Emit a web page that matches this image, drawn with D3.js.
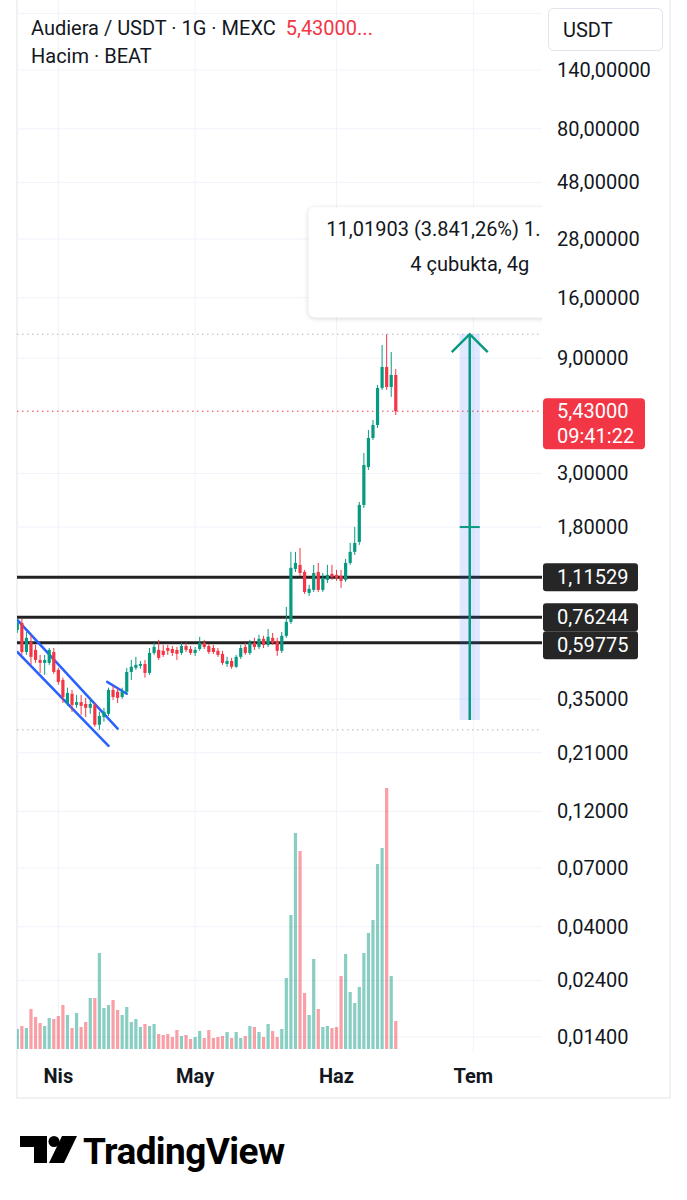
<!DOCTYPE html>
<html>
<head>
<meta charset="utf-8">
<script src="https://cdn.jsdelivr.net/npm/d3@7"></script>
<style>
  body { margin: 0; background: #fff; }
  svg { display: block; font-family: Roboto, "Noto Sans", sans-serif; }
</style>
</head>
<body>
<svg id="chart"></svg>
<script>
// daily candles, first one is 23 Mar
const firstDay = "2025-03-23";

const opens = [
  0.676, 0.723, 0.548, 0.603, 0.559, 0.508, 0.494, 0.494, 0.548, 0.462,
  0.420, 0.337, 0.368, 0.331, 0.340, 0.334, 0.322, 0.331, 0.274, 0.295,
  0.304, 0.382, 0.375, 0.357, 0.375, 0.453, 0.471, 0.480, 0.489, 0.449,
  0.543, 0.559, 0.554, 0.569, 0.564, 0.559, 0.543, 0.580, 0.564, 0.543,
  0.564, 0.598, 0.580, 0.569, 0.554, 0.538, 0.489, 0.503, 0.476, 0.523,
  0.575, 0.543, 0.598, 0.575, 0.621, 0.586, 0.627, 0.609, 0.554, 0.639,
  0.730, 1.209, 1.256, 1.174, 0.962, 0.990, 1.174, 0.990, 1.089, 1.153,
  1.142, 1.131, 1.089, 1.280, 1.422, 1.563, 2.223, 3.192, 4.208, 4.763,
  6.775, 8.275, 6.839, 7.667
];
const highs = [
  0.744, 0.751, 0.663, 0.645, 0.586, 0.533, 0.533, 0.569, 0.569, 0.471,
  0.429, 0.390, 0.382, 0.364, 0.364, 0.354, 0.354, 0.337, 0.310, 0.322,
  0.390, 0.397, 0.390, 0.390, 0.471, 0.508, 0.523, 0.503, 0.508, 0.569,
  0.598, 0.615, 0.586, 0.586, 0.580, 0.575, 0.598, 0.598, 0.580, 0.575,
  0.633, 0.615, 0.592, 0.586, 0.569, 0.554, 0.523, 0.518, 0.533, 0.586,
  0.598, 0.615, 0.627, 0.645, 0.639, 0.682, 0.657, 0.627, 0.663, 0.842,
  1.422, 1.422, 1.476, 1.197, 1.038, 1.256, 1.280, 1.163, 1.256, 1.256,
  1.197, 1.197, 1.329, 1.548, 1.803, 2.288, 3.648, 4.541, 4.995, 6.971,
  10.203, 11.306, 9.545, 8.118
];
const lows = [
  0.657, 0.533, 0.533, 0.485, 0.494, 0.449, 0.441, 0.485, 0.445, 0.401,
  0.337, 0.328, 0.310, 0.322, 0.301, 0.295, 0.304, 0.269, 0.261, 0.282,
  0.298, 0.347, 0.337, 0.350, 0.368, 0.420, 0.462, 0.467, 0.429, 0.441,
  0.533, 0.508, 0.523, 0.533, 0.528, 0.508, 0.533, 0.548, 0.533, 0.528,
  0.554, 0.564, 0.538, 0.538, 0.523, 0.485, 0.476, 0.467, 0.471, 0.513,
  0.533, 0.533, 0.559, 0.564, 0.569, 0.575, 0.586, 0.528, 0.543, 0.627,
  0.716, 1.174, 1.131, 0.953, 0.935, 0.971, 0.971, 0.971, 1.058, 1.089,
  1.079, 1.009, 1.068, 1.256, 1.381, 1.519, 2.160, 3.103, 4.129, 4.629,
  6.647, 6.647, 6.218, 5.239
];
const closes = [
  0.723, 0.548, 0.627, 0.523, 0.508, 0.494, 0.508, 0.559, 0.453, 0.412,
  0.357, 0.371, 0.331, 0.340, 0.328, 0.322, 0.334, 0.274, 0.298, 0.310,
  0.382, 0.357, 0.354, 0.375, 0.453, 0.476, 0.485, 0.489, 0.449, 0.543,
  0.575, 0.518, 0.533, 0.554, 0.543, 0.538, 0.580, 0.559, 0.543, 0.559,
  0.598, 0.575, 0.548, 0.548, 0.533, 0.494, 0.503, 0.476, 0.523, 0.569,
  0.543, 0.598, 0.575, 0.621, 0.586, 0.633, 0.598, 0.554, 0.639, 0.730,
  1.221, 1.280, 1.163, 0.971, 1.000, 1.163, 0.990, 1.110, 1.142, 1.120,
  1.110, 1.079, 1.280, 1.422, 1.548, 2.223, 3.254, 4.208, 4.763, 6.775,
  8.275, 6.839, 7.667, 5.430
];
// volume in millions of BEAT
const volumes = [
  2.0, 2.3, 2.1, 4.0, 3.2, 2.6, 2.3, 3.1, 3.0, 3.3,
  4.4, 3.4, 2.1, 3.6, 2.2, 2.7, 5.1, 5.1, 9.6, 4.1,
  4.4, 4.9, 3.9, 3.4, 4.2, 2.7, 3.0, 2.2, 2.5, 2.3,
  2.5, 1.5, 1.4, 1.5, 1.2, 1.9, 1.3, 1.4, 1.0, 1.2,
  1.8, 1.1, 1.9, 1.1, 1.2, 1.3, 1.7, 1.1, 1.7, 1.1,
  1.3, 2.3, 2.2, 1.7, 1.2, 2.5, 1.8, 1.2, 2.0, 7.1,
  13.4, 21.6, 19.8, 5.6, 3.4, 9.0, 4.0, 2.2, 2.3, 2.1,
  2.2, 7.3, 9.5, 5.7, 4.6, 6.2, 9.6, 11.6, 12.9, 18.5,
  20.1, 26.1, 7.3, 2.8
];

const levels = [1.11529, 0.76244, 0.59775];
const priceTicks = [140, 80, 48, 28, 16, 9, 3, 1.8, 0.35, 0.21, 0.12, 0.07, 0.04, 0.024, 0.014];
const hiddenTicks = [240];
const lastPrice = 5.43;
const countdown = "09:41:22";
const trMonths = ["Oca", "Şub", "Mar", "Nis", "May", "Haz", "Tem", "Ağu", "Eyl", "Eki", "Kas", "Ara"];

// trend lines drawn on the chart: [time, price] pairs
const channelLines = [
  [["2025-03-23T00:00Z", 0.744], ["2025-04-14T00:00Z", 0.264]],
  [["2025-03-23T00:00Z", 0.548], ["2025-04-12T00:00Z", 0.224]],
  [["2025-04-11T17:00Z", 0.412], ["2025-04-16T00:00Z", 0.368]]
];
const measureFrom = ["2025-06-28T00:00Z", 0.2869];
const measureTo = ["2025-07-02T00:00Z", 11.30593];
const measureLines = ["11,01903 (3.841,26%) 1.101.903", "4 çubukta, 4g"];

const headerTitle = "Audiera / USDT · 1G · MEXC";
const headerPrice = "5,43000...";
const headerSub = "Hacim · BEAT";

class PriceChart {

  constructor(_config) {
    this.config = {
      parentElement: _config.parentElement,
      width: _config.width || 687,
      height: _config.height || 1200,
      fontSize: _config.fontSize || 20,
      plot: _config.plot || {left: 17, right: 542, top: 0, bottom: 1052}
    };
    this.initVis();
    this.renderVis();
  }

  initVis() {
    let vis = this;

    vis.svg = d3.select(vis.config.parentElement)
      .attr("width", vis.config.width)
      .attr("height", vis.config.height);

    vis.candles = opens.map((o, i) => ({
      date: d3.utcDay.offset(new Date(firstDay), i),
      open: o, high: highs[i], low: lows[i], close: closes[i], volume: volumes[i]
    }));

    vis.xScale = d3.scaleUtc()
      .domain([new Date("2025-03-23"), new Date("2025-07-01")])
      .range([17.3, 473.3]);

    vis.yScale = d3.scaleLog()
      .domain([0.014, 140])
      .range([1037, 70]);

    vis.volScale = d3.scaleLinear()
      .domain([0, d3.max(volumes)])
      .range([1049, 788]);

    vis.fmt = d3.formatLocale({decimal: ",", thousands: ".", grouping: [3], currency: ["", ""]})
      .format(".5f");

    const defs = vis.svg.append("defs");
    const p = vis.config.plot;
    defs.append("clipPath").attr("id", "plot-clip")
      .append("rect")
      .attr("x", p.left).attr("y", p.top)
      .attr("width", p.right - p.left).attr("height", p.bottom - p.top);

    const shadow = defs.append("filter").attr("id", "soft-shadow")
      .attr("x", "-10%").attr("y", "-20%").attr("width", "120%").attr("height", "150%");
    shadow.append("feDropShadow")
      .attr("dx", 0).attr("dy", 1).attr("stdDeviation", 2.5)
      .attr("flood-color", "#000").attr("flood-opacity", 0.18);
  }

  renderVis() {
    let vis = this;
    const p = vis.config.plot;
    const fs = vis.config.fontSize;
    const x = vis.xScale, y = vis.yScale;
    const up = "#089981", down = "#f23645";

    // outer frame
    vis.svg.append("rect")
      .attr("x", 17).attr("y", -2)
      .attr("width", 653).attr("height", 1100)
      .attr("fill", "none").attr("stroke", "#e0e3eb").attr("stroke-width", 1);

    const plot = vis.svg.append("g").attr("clip-path", "url(#plot-clip)");

    // grid
    const monthTicks = x.ticks(d3.utcMonth.every(1))
      .filter(d => x(d) > p.left && x(d) < p.right);

    plot.append("g").selectAll("line")
      .data(monthTicks)
      .join("line")
      .attr("x1", d => x(d)).attr("x2", d => x(d))
      .attr("y1", p.top).attr("y2", p.bottom)
      .attr("stroke", "#f0f3fa");

    plot.append("g").selectAll("line")
      .data(priceTicks.concat(hiddenTicks))
      .join("line")
      .attr("x1", p.left).attr("x2", p.right)
      .attr("y1", d => y(d)).attr("y2", d => y(d))
      .attr("stroke", "#f0f3fa");

    // volume
    plot.append("g").selectAll("rect")
      .data(vis.candles)
      .join("rect")
      .attr("x", d => x(d.date) - 1.6)
      .attr("width", 3.2)
      .attr("y", d => vis.volScale(d.volume))
      .attr("height", d => vis.volScale(0) - vis.volScale(d.volume))
      .attr("fill", d => d.close >= d.open ? up : down)
      .attr("fill-opacity", 0.48);

    // horizontal levels
    plot.append("g").selectAll("line")
      .data(levels)
      .join("line")
      .attr("x1", p.left).attr("x2", p.right)
      .attr("y1", d => y(d)).attr("y2", d => y(d))
      .attr("stroke", "#222").attr("stroke-width", 3);

    // high / low / last price lines
    const hi = d3.max(highs), lo = d3.min(lows);
    plot.append("g").selectAll("line")
      .data([[hi, "#b2b5be"], [lo, "#b2b5be"], [lastPrice, down]])
      .join("line")
      .attr("x1", p.left).attr("x2", p.right)
      .attr("y1", d => y(d[0])).attr("y2", d => y(d[0]))
      .attr("stroke", d => d[1]).attr("stroke-width", 1)
      .attr("stroke-dasharray", "1.5 3.5");

    // channel drawings
    plot.append("g").selectAll("line")
      .data(channelLines)
      .join("line")
      .attr("x1", d => x(new Date(d[0][0]))).attr("y1", d => y(d[0][1]))
      .attr("x2", d => x(new Date(d[1][0]))).attr("y2", d => y(d[1][1]))
      .attr("stroke", "#2962ff").attr("stroke-width", 2.5)
      .attr("stroke-linecap", "round");

    // candles
    const candle = plot.append("g").selectAll("g")
      .data(vis.candles)
      .join("g")
      .attr("fill", d => d.close >= d.open ? up : down)
      .attr("stroke", d => d.close >= d.open ? up : down);

    candle.append("line")
      .attr("x1", d => x(d.date)).attr("x2", d => x(d.date))
      .attr("y1", d => y(d.high)).attr("y2", d => y(d.low))
      .attr("stroke-width", 1);

    candle.append("rect")
      .attr("stroke", "none")
      .attr("x", d => x(d.date) - 1.6)
      .attr("width", 3.2)
      .attr("y", d => y(Math.max(d.open, d.close)))
      .attr("height", d => Math.max(1, Math.abs(y(d.open) - y(d.close))));

    // measure tool
    const mx0 = x(new Date(measureFrom[0])), mx1 = x(new Date(measureTo[0]));
    const mxc = (mx0 + mx1) / 2 + 1;
    const my0 = y(measureFrom[1]), my1 = y(measureTo[1]);
    const measure = plot.append("g");
    measure.append("rect")
      .attr("x", mx0).attr("y", my1)
      .attr("width", mx1 - mx0 + 2).attr("height", my0 - my1)
      .attr("fill", "#2962ff").attr("fill-opacity", 0.15);
    measure.append("line")
      .attr("x1", mxc).attr("x2", mxc)
      .attr("y1", my0).attr("y2", my1 + 1)
      .attr("stroke", up).attr("stroke-width", 2.5);
    measure.append("path")
      .attr("d", `M${mxc - 18},${my1 + 18}L${mxc},${my1}L${mxc + 18},${my1 + 18}`)
      .attr("fill", "none").attr("stroke", up).attr("stroke-width", 2.5);
    measure.append("line")
      .attr("x1", mxc - 10).attr("x2", mxc + 10)
      .attr("y1", (my0 + my1) / 2).attr("y2", (my0 + my1) / 2)
      .attr("stroke", up).attr("stroke-width", 2);

    const tip = plot.append("g");
    tip.append("rect")
      .attr("x", mxc - 161).attr("y", my1 - 127)
      .attr("width", 322).attr("height", 110)
      .attr("rx", 6)
      .attr("fill", "#fff")
      .attr("filter", "url(#soft-shadow)");
    const tipText = tip.selectAll("text")
      .data(measureLines)
      .join("text")
      .attr("x", mxc)
      .attr("y", (d, i) => my1 - 105 + i * 35)
      .attr("dy", "0.35em")
      .attr("text-anchor", "middle")
      .attr("font-size", fs)
      .attr("fill", "#131722")
      .text(d => d);

    // the tooltip runs under the price scale: keep only the characters left of the plot edge
    tipText.each(function(d) {
      const el = this;
      const full = el.getComputedTextLength();
      const start = mxc - full / 2;
      if (start + full <= p.right) return;
      let n = d.length;
      while (n > 0 && start + el.getSubStringLength(0, n) > p.right + 4) n--;
      d3.select(el)
        .attr("text-anchor", "start")
        .attr("x", start)
        .text(d.slice(0, n));
    });

    // legend
    const legend = vis.svg.append("g").attr("font-size", fs);
    const t1 = legend.append("text")
      .attr("x", 31).attr("y", 35)
      .attr("fill", "#131722");
    t1.append("tspan").text(headerTitle);
    t1.append("tspan").attr("dx", 10).attr("fill", down).text(headerPrice);
    legend.append("text")
      .attr("x", 31).attr("y", 63)
      .attr("fill", "#131722")
      .text(headerSub);

    // price axis
    vis.svg.append("g").selectAll("text")
      .data(priceTicks)
      .join("text")
      .attr("x", 557).attr("y", d => y(d))
      .attr("dy", "0.35em")
      .attr("font-size", fs)
      .attr("fill", "#131722")
      .text(d => vis.fmt(d));

    // level labels, pushed apart when they overlap
    const boxH = 28;
    let prevBottom = -Infinity;
    const levelBoxes = levels.slice().sort((a, b) => b - a).map(v => {
      let top = Math.max(y(v) - boxH / 2, prevBottom);
      prevBottom = top + boxH;
      return {value: v, top: top};
    });
    const lb = vis.svg.append("g").selectAll("g")
      .data(levelBoxes)
      .join("g");
    lb.append("rect")
      .attr("x", 543).attr("y", d => d.top)
      .attr("width", 95).attr("height", boxH)
      .attr("rx", 3)
      .attr("fill", "#262626");
    lb.append("text")
      .attr("x", 557).attr("y", d => d.top + boxH / 2)
      .attr("dy", "0.35em")
      .attr("font-size", fs)
      .attr("fill", "#fff")
      .text(d => vis.fmt(d.value));

    // last price label
    const ly = y(lastPrice);
    const last = vis.svg.append("g");
    last.append("rect")
      .attr("x", 543).attr("y", ly - 13)
      .attr("width", 102).attr("height", 51)
      .attr("rx", 4)
      .attr("fill", down);
    last.selectAll("text")
      .data([vis.fmt(lastPrice), countdown])
      .join("text")
      .attr("x", 557).attr("y", (d, i) => ly + i * 25)
      .attr("dy", "0.35em")
      .attr("font-size", fs)
      .attr("fill", "#fff")
      .text(d => d);

    // currency button
    const btn = vis.svg.append("g");
    btn.append("rect")
      .attr("x", 548.5).attr("y", 8.5)
      .attr("width", 114).attr("height", 42)
      .attr("rx", 5)
      .attr("fill", "#fff").attr("stroke", "#e0e3eb");
    btn.append("text")
      .attr("x", 563).attr("y", 30).attr("dy", "0.35em")
      .attr("font-size", fs).attr("fill", "#131722")
      .text("USDT");

    // time axis
    vis.svg.append("g").selectAll("text")
      .data(monthTicks)
      .join("text")
      .attr("x", d => x(d)).attr("y", 1076)
      .attr("dy", "0.35em")
      .attr("text-anchor", "middle")
      .attr("font-size", fs)
      .attr("font-weight", 700)
      .attr("fill", "#131722")
      .text(d => trMonths[d.getUTCMonth()]);

    // TradingView mark
    const logo = vis.svg.append("g").attr("fill", "#000");
    logo.append("path").attr("d", "M20,1136H47V1163H34V1147H20Z");
    logo.append("circle").attr("cx", 54).attr("cy", 1141.5).attr("r", 5.5);
    logo.append("path").attr("d", "M62,1136H77L64,1163H49Z");
    logo.append("text")
      .attr("x", 83).attr("y", 1164)
      .attr("font-size", 37)
      .attr("font-weight", 700)
      .attr("letter-spacing", -0.6)
      .text("TradingView");
  }
}

new PriceChart({parentElement: "#chart"});
</script>
</body>
</html>
